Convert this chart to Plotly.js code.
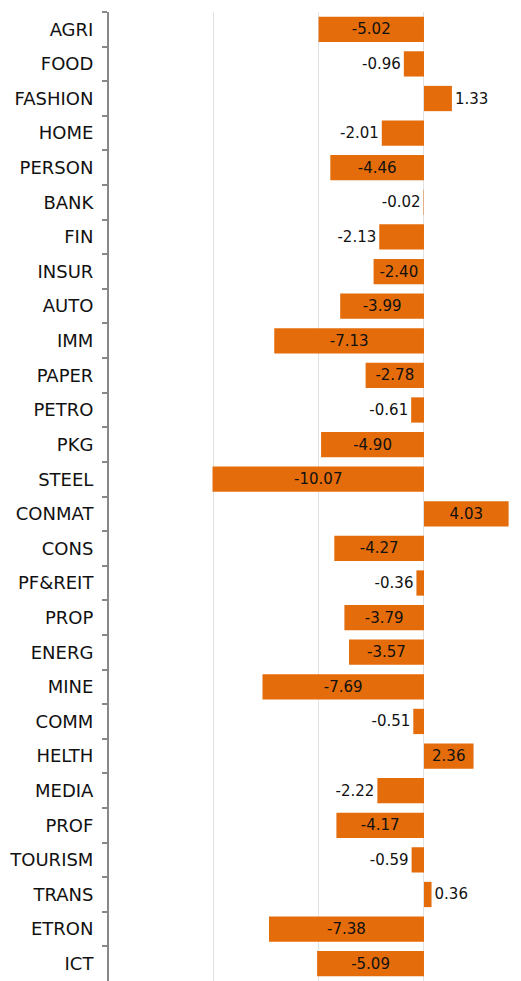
<!DOCTYPE html>
<html>
<head>
<meta charset="utf-8">
<script src="https://cdn.plot.ly/plotly-3.0.1.min.js"></script>
<style>html,body{margin:0;padding:0;background:#fff;}#chart{width:521px;height:981px;}</style>
</head>
<body>
<div id="chart"></div>
<script>
const categories = ["AGRI","FOOD","FASHION","HOME","PERSON","BANK","FIN","INSUR","AUTO","IMM","PAPER","PETRO","PKG","STEEL","CONMAT","CONS","PF&REIT","PROP","ENERG","MINE","COMM","HELTH","MEDIA","PROF","TOURISM","TRANS","ETRON","ICT"];
const values = [-5.02,-0.96,1.33,-2.01,-4.46,-0.02,-2.13,-2.40,-3.99,-7.13,-2.78,-0.61,-4.90,-10.07,4.03,-4.27,-0.36,-3.79,-3.57,-7.69,-0.51,2.36,-2.22,-4.17,-0.59,0.36,-7.38,-5.09];
const labels = values.map(v => v.toFixed(2));
const positions = values.map(v => Math.abs(v) >= 2.3 ? "inside" : "outside");

const trace = {
  type: "bar",
  orientation: "h",
  y: categories,
  x: values,
  text: labels,
  textposition: positions,
  insidetextanchor: "middle",
  constraintext: "none",
  cliponaxis: false,
  textfont: {family: "DejaVu Sans", size: 15, color: "#111"},
  marker: {color: "#E46C0A"},
  hoverinfo: "none"
};

const layout = {
  width: 521,
  height: 981,
  margin: {l: 109, r: 0, t: 12, b: 0},
  paper_bgcolor: "#fff",
  plot_bgcolor: "#fff",
  showlegend: false,
  bargap: 0.27,
  font: {family: "DejaVu Sans", color: "#111"},
  xaxis: {
    range: [-15, 4.62],
    dtick: 5,
    tick0: 0,
    showgrid: true,
    gridcolor: "#e2e2e2",
    gridwidth: 1,
    zeroline: false,
    showticklabels: false,
    ticks: "",
    showline: false,
    fixedrange: true
  },
  yaxis: {
    autorange: "reversed",
    type: "category",
    showline: true,
    linecolor: "#888",
    linewidth: 2,
    ticks: "outside",
    tickson: "boundaries",
    ticklen: 5,
    tickwidth: 2,
    tickcolor: "#888",
    ticklabelstandoff: 10,
    tickfont: {family: "DejaVu Sans", size: 18, color: "#111"},
    showgrid: false,
    zeroline: false,
    fixedrange: true
  }
};

Plotly.newPlot("chart", [trace], layout, {displayModeBar: false, staticPlot: true});
</script>
</body>
</html>
